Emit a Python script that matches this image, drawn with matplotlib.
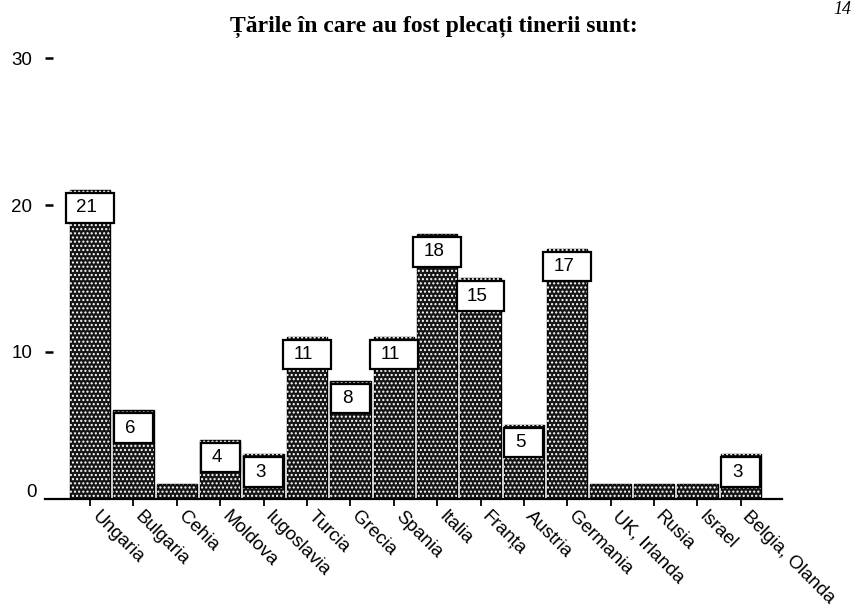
import matplotlib
matplotlib.use("Agg")
import matplotlib.pyplot as plt
from matplotlib.transforms import ScaledTranslation

# data
countries = ["Ungaria", "Bulgaria", "Cehia", "Moldova", "Iugoslavia", "Turcia",
             "Grecia", "Spania", "Italia", "Franța", "Austria", "Germania",
             "UK, Irlanda", "Rusia", "Israel", "Belgia, Olanda"]
counts = [21, 6, 1, 4, 3, 11, 8, 11, 18, 15, 5, 17, 1, 1, 1, 3]
y_ticks = [0, 10, 20, 30]
y_labels = ["0", "10", "20", "30"]
title = "Țările în care au fost plecați tinerii sunt:"

plt.rcParams["font.family"] = ["Liberation Sans", "DejaVu Sans"]

fig = plt.figure(figsize=(8.56, 6.07), dpi=100)
ax = fig.add_axes([45 / 856, 108.5 / 607, 737 / 856, 449 / 607])

x = list(range(len(countries)))

# bars: near-black fill with white dot texture on top
ax.bar(x, counts, width=0.93, color="#161616", edgecolor="black", linewidth=1.0, zorder=2)
ax.bar(x, counts, width=0.93, facecolor="none", edgecolor="white", hatch="....",
       linewidth=0, zorder=2.1)

# value boxes sitting at the top of each bar (not for the 1s)
box_h = 2.0
for xi, v in zip(x, counts):
    if v <= 1:
        continue
    w = 1.1 if v >= 10 else 0.9
    bottom = v - 0.2 - box_h
    ax.bar(xi, box_h, bottom=bottom, width=w, color="white", edgecolor="black",
           linewidth=1.6, zorder=3)
    ax.text(xi - 0.08, bottom + box_h / 2, str(v), ha="center", va="center",
            fontsize=13.5, zorder=4)

ax.set_xlim(-1.04, 15.95)
ax.set_ylim(0, 30.6)

for s in ["left", "top", "right"]:
    ax.spines[s].set_visible(False)
ax.spines["bottom"].set_linewidth(1.6)

ax.set_yticks(y_ticks, y_labels)
ax.tick_params(axis="y", direction="in", length=6, width=1.8, pad=9, labelsize=13.5)
ax.yaxis.get_major_ticks()[0].tick1line.set_visible(False)
zero_lbl = ax.yaxis.get_majorticklabels()[0]
zero_lbl.set_transform(zero_lbl.get_transform() + ScaledTranslation(0.04, 0.08, fig.dpi_scale_trans))

ax.set_xticks(x, countries)
ax.tick_params(axis="x", direction="out", length=5, width=1.3, pad=2, labelsize=13.5)
shift = ScaledTranslation(0.1, 0, fig.dpi_scale_trans)
for lbl in ax.xaxis.get_majorticklabels():
    lbl.set_rotation(-45)
    lbl.set_rotation_mode("anchor")
    lbl.set_ha("left")
    lbl.set_va("top")
    lbl.set_transform(lbl.get_transform() + shift)

fig.text(0.507, 0.956, title, ha="center", va="center", fontsize=17,
         fontweight="bold", family=["Liberation Serif", "DejaVu Serif"])
# page number in the top right corner of the scan
fig.text(0.995, 0.998, "14", ha="right", va="top", fontsize=13, style="italic",
         family=["Liberation Serif", "DejaVu Serif"])

fig.savefig("out.png", dpi=100)
